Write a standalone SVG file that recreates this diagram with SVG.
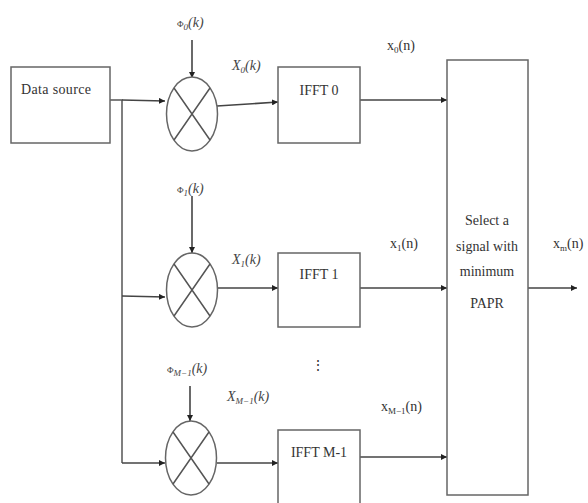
<svg xmlns="http://www.w3.org/2000/svg" width="588" height="503" viewBox="0 0 588 503">
<style>
.box{fill:#fff;stroke:#666;stroke-width:1.5}
.ln{fill:none;stroke:#555;stroke-width:1.5}
.arr{fill:none;stroke:#444;stroke-width:1.6;marker-end:url(#ah)}
.t{font-family:"Liberation Serif",serif;font-size:14px;fill:#333}
.m{font-family:"Liberation Serif",serif;font-size:14px;fill:#444;font-style:italic}
.s{font-size:9px}
</style>
<defs>
<marker id="ah" viewBox="0 0 10 10" refX="10" refY="5" markerWidth="6" markerHeight="6" orient="auto" markerUnits="userSpaceOnUse">
<path d="M0,0 L10,5 L0,10 z" fill="#222"/>
</marker>
</defs>
<rect width="588" height="503" fill="#fff"/>
<g id="connectors">
<path class="ln" d="M110,100 H122 V463"/>
<path class="arr" d="M122,100 L165,101"/>
<path class="arr" d="M122,296 L165,297"/>
<path class="arr" d="M122,463 L165,463"/>
<path class="arr" d="M192,40 V78"/>
<path class="arr" d="M192,196 V253"/>
<path class="arr" d="M190,386 V421"/>
<path class="arr" d="M217,106 L278,102"/>
<path class="arr" d="M217,288 L278,288"/>
<path class="arr" d="M217,463 L278,463"/>
<path class="arr" d="M360,100 L447,100"/>
<path class="arr" d="M360,288 L447,288"/>
<path class="arr" d="M360,457 L447,457"/>
<path class="arr" d="M528,288 L577,288"/>
</g>
<g id="data-source">
<rect class="box" x="11" y="67" width="99" height="76"/>
<text class="t" x="21" y="94" textLength="70">Data source</text>
</g>
<g id="mixer0">
<ellipse class="box" cx="192" cy="114" rx="25.5" ry="37"/>
<path class="ln" d="M174,88 L210,140 M210,88 L174,140"/>
</g>
<g id="mixer1">
<ellipse class="box" cx="192" cy="290" rx="25.5" ry="37"/>
<path class="ln" d="M174,264 L210,316 M210,264 L174,316"/>
</g>
<g id="mixer2">
<ellipse class="box" cx="191" cy="458" rx="25.5" ry="37"/>
<path class="ln" d="M173,432 L209,484 M209,432 L173,484"/>
</g>
<g id="ifft0">
<rect class="box" x="278" y="67" width="82" height="76"/>
<text class="t" x="319" y="95" text-anchor="middle">IFFT 0</text>
</g>
<g id="ifft1">
<rect class="box" x="278" y="253" width="82" height="74"/>
<text class="t" x="319" y="279" text-anchor="middle">IFFT 1</text>
</g>
<g id="ifftM">
<rect class="box" x="278" y="430" width="82" height="80"/>
<text class="t" x="319" y="457" text-anchor="middle">IFFT M-1</text>
</g>
<g id="select">
<rect class="box" x="447" y="60" width="81" height="435"/>
<text class="t" x="487" y="225" text-anchor="middle">Select a</text>
<text class="t" x="487" y="251" text-anchor="middle">signal with</text>
<text class="t" x="487" y="276" text-anchor="middle">minimum</text>
<text class="t" x="487" y="308" text-anchor="middle">PAPR</text>
</g>
<g id="labels">
<text class="m" x="177" y="27"><tspan class="s" font-style="normal">Φ</tspan><tspan class="s" dy="3">0</tspan><tspan dy="-3">(k)</tspan></text>
<text class="m" x="177" y="193"><tspan class="s" font-style="normal">Φ</tspan><tspan class="s" dy="3">1</tspan><tspan dy="-3">(k)</tspan></text>
<text class="m" x="167" y="373"><tspan class="s" font-style="normal">Φ</tspan><tspan class="s" dy="3">M−1</tspan><tspan dy="-3">(k)</tspan></text>
<text class="m" x="232" y="70">X<tspan class="s" dy="3">0</tspan><tspan dy="-3">(k)</tspan></text>
<text class="m" x="232" y="264">X<tspan class="s" dy="3">1</tspan><tspan dy="-3">(k)</tspan></text>
<text class="m" x="227" y="401">X<tspan class="s" dy="3">M−1</tspan><tspan dy="-3">(k)</tspan></text>
<text class="t" x="387" y="50">x<tspan class="s" dy="3">0</tspan><tspan dy="-3">(n)</tspan></text>
<text class="t" x="390" y="248">x<tspan class="s" dy="3">1</tspan><tspan dy="-3">(n)</tspan></text>
<text class="t" x="381" y="411">x<tspan class="s" dy="3">M−1</tspan><tspan dy="-3">(n)</tspan></text>
<text class="t" x="553" y="248">x<tspan class="s" dy="3">m</tspan><tspan dy="-3">(n)</tspan></text>
<text class="t" x="318" y="370" text-anchor="middle" font-size="11">⋮</text>
</g>
</svg>
